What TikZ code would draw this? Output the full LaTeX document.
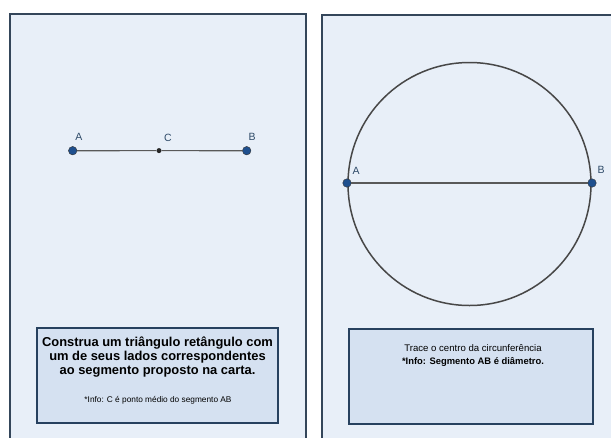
\documentclass[tikz,border=0pt]{standalone}
\usepackage{fontspec}
\setmainfont{Liberation Sans}
\usetikzlibrary{positioning}
\definecolor{cardfill}{HTML}{E8EFF8}
\definecolor{cardline}{HTML}{34465A}
\definecolor{boxfill}{HTML}{D5E1F1}
\definecolor{boxline}{HTML}{27415F}
\definecolor{ptfill}{HTML}{1E4F8E}
\definecolor{lblcol}{HTML}{2E4A68}
\begin{document}
\begin{tikzpicture}[x=1pt,y=-1pt,every node/.style={inner sep=1pt}]
\tikzstyle{card}=[draw=cardline,line width=1.3pt,fill=cardfill]
\tikzstyle{textbox}=[draw=boxline,line width=1.3pt,fill=boxfill]
\tikzstyle{pt}=[circle,draw=black!80,fill=ptfill,inner sep=0pt,minimum size=8.5pt]
\tikzstyle{midpt}=[circle,fill=black!85,inner sep=0pt,minimum size=5pt]
\tikzstyle{lbl}=[text=lblcol,font=\fontsize{10.5}{10.5}\selectfont]
\tikzstyle{seg}=[draw=black!65,line width=1.2pt]
\useasboundingbox (0,0) rectangle (611,437);
\clip (0,0) rectangle (611,437);
\path[fill=white](0,0) rectangle (611,437);

\path[card](10,14) rectangle (306,445);
\path[card](322,15) rectangle (620,445);

% carta 1
\node[pt](a1) at (72.7,150.7){};
\node[midpt](c1) at (159,150.6){};
\node[pt](b1) at (246.7,150.7){};
\path[seg](a1)--(c1)--(b1);
\node[lbl](la1) at (79,137){A};
\node[lbl](lc1) at (168,138){C};
\node[lbl](lb1) at (252,137){B};

\path[textbox](37,328) rectangle (278,423);
\node[align=center,font=\bfseries\fontsize{12.9}{14}\selectfont](task1) at (157.5,357){Construa um triângulo retângulo com\\ um de seus lados correspondentes\\ ao segmento proposto na carta.};
\node[font=\fontsize{8.3}{9}\selectfont](info1) at (158,400){*Info: C é ponto médio do segmento AB};

% carta 2
\node[circle,draw=black!72,line width=1.5pt,minimum size=243pt](circ) at (469.5,184){};
\node[pt](a2) at (347,183){};
\node[pt](b2) at (592,183){};
\path[seg](a2)--(b2);
\node[lbl](la2) at (356,171){A};
\node[lbl](lb2) at (601,170){B};

\path[textbox](349,329) rectangle (593,424);
\node[font=\fontsize{9.6}{10}\selectfont](task2) at (473,348){Trace o centro da circunferência};
\node[font=\bfseries\fontsize{9.4}{10}\selectfont](info2) at (473,362){*Info: Segmento AB é diâmetro.};
\end{tikzpicture}
\end{document}
